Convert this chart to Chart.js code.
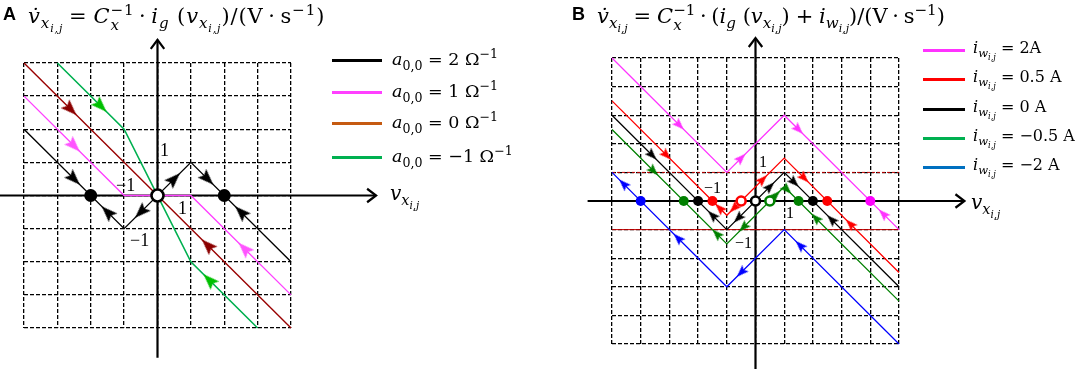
<!DOCTYPE html>
<html>
<head>
<meta charset="utf-8">
<script src="https://cdn.jsdelivr.net/npm/chart.js@4.4.1/dist/chart.umd.min.js"></script>
<style>
  body { margin: 0; background: #fff; width: 1079px; height: 369px; position: relative; overflow: hidden;
         font-family: "DejaVu Serif", "Liberation Serif", serif; color: #000; }
  canvas { position: absolute; top: 0; }
  .t { position: absolute; white-space: nowrap; line-height: 1; }
  .eq { font-size: 21px; }
  i { font-style: italic; }
  sub, sup { font-size: 72%; line-height: 0; }
  .ss { display: inline-flex; flex-direction: column; vertical-align: 8px; font-size: 72%; line-height: 1.0; }
  .op { margin: 0 0.28em; }
  .dt { margin: 0 0.22em; }
  .panel { position: absolute; font-family: "Liberation Sans", Arial, sans-serif; font-weight: bold; font-size: 18px; line-height: 1; }
  .sw { position: absolute; height: 3px; }
  .num { position: absolute; font-family: "Liberation Serif", serif; font-size: 18px; line-height: 1; }
  .numB { position: absolute; font-family: "Liberation Serif", serif; font-size: 16px; line-height: 1; }
</style>
</head>
<body>
<canvas id="chartA" width="540" height="369" style="left:0;width:540px;height:369px"></canvas>
<canvas id="chartB" width="539" height="369" style="left:540px;width:539px;height:369px"></canvas>

<!-- panel A text -->
<div class="panel" style="left:3px;top:5px">A</div>
<div class="t eq" style="left:28px;top:3px;letter-spacing:0.9px"><i>v̇</i><sub><i>x</i><sub><i>i,j</i></sub></sub><span class="op">=</span><i>C</i><span class="ss"><span>−1</span><span><i>x</i></span></span><span class="dt">·</span><i>i</i><sub><i>g</i></sub> (<i>v</i><sub><i>x</i><sub><i>i,j</i></sub></sub>)/(V<span class="dt">·</span>s<sup>−1</sup>)</div>

<div class="sw" style="left:332px;top:59px;width:50px;background:#000"></div>
<div class="sw" style="left:332px;top:91px;width:50px;background:#ff40ff"></div>
<div class="sw" style="left:332px;top:122px;width:50px;background:#c55a11"></div>
<div class="sw" style="left:332px;top:156px;width:50px;background:#00b050"></div>
<div class="t" style="left:392px;top:51px;font-size:17.5px"><i>a</i><sub>0,0</sub> = 2 Ω<sup>−1</sup></div>
<div class="t" style="left:392px;top:83px;font-size:17.5px"><i>a</i><sub>0,0</sub> = 1 Ω<sup>−1</sup></div>
<div class="t" style="left:392px;top:114px;font-size:17.5px"><i>a</i><sub>0,0</sub> = 0 Ω<sup>−1</sup></div>
<div class="t" style="left:392px;top:148px;font-size:17.5px"><i>a</i><sub>0,0</sub> = −1 Ω<sup>−1</sup></div>
<div class="t" style="left:390px;top:183px;font-size:20px"><i>v</i><sub><i>x</i><sub><i>i,j</i></sub></sub></div>

<div class="num" style="left:160px;top:141px">1</div>
<div class="num" style="left:116px;top:176px">−1</div>
<div class="num" style="left:178px;top:199px">1</div>
<div class="num" style="left:130px;top:231px">−1</div>

<!-- panel B text -->
<div class="panel" style="left:572px;top:5px">B</div>
<div class="t eq" style="left:597px;top:3px"><i>v̇</i><sub><i>x</i><sub><i>i,j</i></sub></sub><span class="op">=</span><i>C</i><span class="ss"><span>−1</span><span><i>x</i></span></span><span class="dt">·</span>(<i>i</i><sub><i>g</i></sub> (<i>v</i><sub><i>x</i><sub><i>i,j</i></sub></sub>)<span class="op">+</span><i>i</i><sub><i>w</i><sub><i>i,j</i></sub></sub>)/(V<span class="dt">·</span>s<sup>−1</sup>)</div>

<div class="sw" style="left:923px;top:49px;width:42px;background:#ff33ff"></div>
<div class="sw" style="left:923px;top:78px;width:42px;background:#ff0000"></div>
<div class="sw" style="left:923px;top:108px;width:42px;background:#000"></div>
<div class="sw" style="left:923px;top:137px;width:42px;background:#00b050"></div>
<div class="sw" style="left:923px;top:166px;width:42px;background:#0070c0"></div>
<div class="t" style="left:973px;top:40px;font-size:16px"><i>i</i><sub><i>w</i><sub><i>i,j</i></sub></sub> = 2A</div>
<div class="t" style="left:973px;top:69px;font-size:16px"><i>i</i><sub><i>w</i><sub><i>i,j</i></sub></sub> = 0.5 A</div>
<div class="t" style="left:973px;top:99px;font-size:16px"><i>i</i><sub><i>w</i><sub><i>i,j</i></sub></sub> = 0 A</div>
<div class="t" style="left:973px;top:128px;font-size:16px"><i>i</i><sub><i>w</i><sub><i>i,j</i></sub></sub> = −0.5 A</div>
<div class="t" style="left:973px;top:157px;font-size:16px"><i>i</i><sub><i>w</i><sub><i>i,j</i></sub></sub> = −2 A</div>
<div class="t" style="left:971px;top:192px;font-size:20px"><i>v</i><sub><i>x</i><sub><i>i,j</i></sub></sub></div>

<div class="numB" style="left:759px;top:154px">1</div>
<div class="numB" style="left:704px;top:180px">−1</div>
<div class="numB" style="left:786px;top:205px">1</div>
<div class="numB" style="left:735px;top:235px">−1</div>

<script>
// ---- panel A: i_g(v) for several a00 ----
const vA = [-4, -1, 1, 4];
const igA_2 = [2, -1, 1, -2];
const igA_1 = [3, 0, 0, -3];
const vA_0 = [-4, 4];
const igA_0 = [4, -4];
const vA_m1 = [-3, -1, 1, 3];
const igA_m1 = [4, 2, -2, -4];
const stableA = [-2, 2];
const unstableA = [0];
// arrows: [v, value, direction]
const arrowsA_2 = [[-2.5, 0.5, 'dr'], [-1.5, -0.5, 'ul'], [-0.5, -0.5, 'dl'], [0.5, 0.5, 'ur'], [1.5, 0.5, 'dr'], [2.5, -0.5, 'ul']];
const arrowsA_1 = [[-2.5, 1.5, 'dr'], [2.6, -1.6, 'ul']];
const arrowsA_0 = [[-2.6, 2.6, 'dr'], [1.5, -1.5, 'ul']];
const arrowsA_m1 = [[-1.7, 2.7, 'dr'], [1.55, -2.55, 'ul']];

// ---- panel B: i_g(v) + i_w ----
const vB = [-5, -1, 1, 5];
const igB_2 = [5, 1, 3, -1];
const igB_05 = [3.5, -0.5, 1.5, -2.5];
const igB_0 = [3, -1, 1, -3];
const igB_m05 = [2.5, -1.5, 0.5, -3.5];
const igB_m2 = [1, -3, -1, -5];
const refLevelsB = [1, -1];
const stableB_2 = [4];
const stableB_05 = [-1.5, 2.5];
const unstableB_05 = [-0.5];
const stableB_0 = [-2, 2];
const unstableB_0 = [0];
const stableB_m05 = [-2.5, 1.5];
const unstableB_m05 = [0.5];
const stableB_m2 = [-4];
const arrowsB_2 = [[-2.65, 2.65, 'dr'], [-0.5, 1.5, 'ur'], [1.5, 2.5, 'dr'], [4.45, -0.45, 'ul']];
const arrowsB_05 = [[-3.1, 1.6, 'dr'], [-1.25, -0.25, 'ul'], [-0.75, -0.25, 'dl'], [0.25, 0.75, 'ur'], [1.7, 0.8, 'dr'], [3.3, -0.8, 'ul']];
const arrowsB_0 = [[-3.6, 1.6, 'dr'], [-1.5, -0.5, 'ul'], [-0.6, -0.6, 'dl'], [0.5, 0.5, 'ur'], [1.35, 0.65, 'dr'], [2.65, -0.65, 'ul']];
const arrowsB_m05 = [[-3.55, 1.05, 'dr'], [-1.35, -1.15, 'ul'], [-0.42, -0.92, 'dl'], [0.7, 0.2, 'ur'], [1.1, 0.4, 'dr'], [2.1, -0.6, 'ul']];
const arrowsB_m2 = [[-4.6, 0.6, 'ul'], [-2.7, -1.3, 'ul'], [-0.5, -2.5, 'dl'], [1.55, -1.55, 'ul']];

const rot = { dr: 135, ul: -45, dl: -135, ur: 45 };

// arrow head pointing up, used as point style
function arrowHead(color, w, h) {
    const c = document.createElement('canvas');
    c.width = w; c.height = h;
    const g = c.getContext('2d');
    g.fillStyle = color;
    g.beginPath();
    g.moveTo(w / 2, 0);
    g.lineTo(w, h);
    g.lineTo(w / 2, h * 0.82);
    g.lineTo(0, h);
    g.closePath();
    g.fill();
    return c;
}

function lineDs(xs, ys, color, w, dash) {
    return {
        type: 'line',
        order: 3,
        data: xs.map((x, i) => ({ x: x, y: ys[i] })),
        borderColor: color,
        borderWidth: w,
        borderDash: dash || [],
        pointRadius: 0,
        fill: false,
        tension: 0,
        clip: false
    };
}

function arrowDs(list, color, w, h) {
    return {
        type: 'scatter',
        order: 2,
        data: list.map(a => ({ x: a[0], y: a[1] })),
        pointStyle: arrowHead(color, w, h),
        pointRotation: list.map(a => rot[a[2]]),
        pointRadius: h / 2,
        clip: false
    };
}

function dotDs(xs, color, r, open) {
    return {
        type: 'scatter',
        order: 1,
        data: xs.map(x => ({ x: x, y: 0 })),
        pointRadius: r,
        pointBackgroundColor: open ? '#fff' : color,
        pointBorderColor: color,
        pointBorderWidth: open ? 2.6 : 0,
        clip: false
    };
}

// solid axes with open arrow heads, drawn under the curves
const axesPlugin = {
    id: 'axes',
    beforeDatasetsDraw(chart, args, opts) {
        const ctx = chart.ctx;
        const sx = chart.scales.x, sy = chart.scales.y;
        const x0 = sx.getPixelForValue(0), y0 = sy.getPixelForValue(0);
        const xl = sx.getPixelForValue(opts.xFrom), xr = sx.getPixelForValue(opts.xTo);
        const yb = sy.getPixelForValue(opts.yFrom), yt = sy.getPixelForValue(opts.yTo);
        ctx.save();
        ctx.strokeStyle = '#000';
        ctx.lineWidth = 2.2;
        ctx.beginPath();
        ctx.moveTo(xl, y0); ctx.lineTo(xr, y0);
        ctx.moveTo(x0, yb); ctx.lineTo(x0, yt);
        ctx.stroke();
        const h = 9;
        ctx.beginPath();
        ctx.moveTo(xr - h, y0 - h * 0.75); ctx.lineTo(xr, y0); ctx.lineTo(xr - h, y0 + h * 0.75);
        ctx.moveTo(x0 - h * 0.75, yt + h); ctx.lineTo(x0, yt); ctx.lineTo(x0 + h * 0.75, yt + h);
        ctx.stroke();
        ctx.restore();
    }
};

function options(min, max, pad, axes) {
    const sc = (isX) => ({
        type: 'linear', min: min, max: max,
        ticks: { display: false, stepSize: 1 },
        grid: { color: '#000', lineWidth: 1.3, drawTicks: false },
        border: { display: false, dash: [4, 2] },
        afterFit: s => { if (isX) s.height = 0; else s.width = 0; }
    });
    return {
        responsive: false,
        animation: false,
        events: [],
        layout: { padding: pad },
        plugins: { legend: { display: false }, tooltip: { enabled: false }, axes: axes },
        scales: { x: sc(true), y: sc(false) }
    };
}

new Chart(document.getElementById('chartA'), {
    type: 'line',
    data: {
        datasets: [
            lineDs(vA, igA_2, '#000', 1.4),
            lineDs(vA, igA_1, '#ff40ff', 1.4),
            lineDs(vA_0, igA_0, '#990000', 1.4),
            lineDs(vA_m1, igA_m1, '#00b050', 1.6),
            arrowDs(arrowsA_2, '#000', 12, 16),
            arrowDs(arrowsA_1, '#ff55ff', 12, 16),
            arrowDs(arrowsA_0, '#8b0000', 12, 16),
            arrowDs(arrowsA_m1, '#00c000', 12, 16),
            dotDs(stableA, '#000', 6.5, false),
            dotDs(unstableA, '#000', 6, true)
        ]
    },
    options: options(-4, 4, { left: 24, top: 63, right: 249, bottom: 41 },
        { xFrom: -4.72, xTo: 6.55, yFrom: -4.9, yTo: 4.7 }),
    plugins: [axesPlugin]
});

const refDs = refLevelsB.map((lv, i) =>
    Object.assign(lineDs([-5, 5], [lv, lv], '#c00000', 1, i === 0 ? [3, 2] : []), { order: 4 }));

new Chart(document.getElementById('chartB'), {
    type: 'line',
    data: {
        datasets: [
            ...refDs,
            lineDs(vB, igB_2, '#ff33ff', 1.3),
            lineDs(vB, igB_05, '#ff0000', 1.3),
            lineDs(vB, igB_0, '#000', 1.3),
            lineDs(vB, igB_m05, '#008000', 1.3),
            lineDs(vB, igB_m2, '#0000ff', 1.3),
            arrowDs(arrowsB_2, '#ff33ff', 9, 12),
            arrowDs(arrowsB_05, '#ff0000', 9, 12),
            arrowDs(arrowsB_0, '#000', 9, 12),
            arrowDs(arrowsB_m05, '#008000', 9, 12),
            arrowDs(arrowsB_m2, '#0000ff', 9, 12),
            dotDs(stableB_2, '#ff00ff', 5, false),
            dotDs(stableB_05, '#ff0000', 5, false),
            dotDs(unstableB_05, '#ff0000', 4.5, true),
            dotDs(stableB_0, '#000', 5, false),
            dotDs(unstableB_0, '#000', 4.5, true),
            dotDs(stableB_m05, '#008000', 5, false),
            dotDs(unstableB_m05, '#008000', 4.5, true),
            dotDs(stableB_m2, '#0000ff', 5, false)
        ]
    },
    options: options(-5, 5, { left: 72, top: 58, right: 180, bottom: 25 },
        { xFrom: -5.85, xTo: 7.28, yFrom: -5.9, yTo: 5.7 }),
    plugins: [axesPlugin]
});
</script>
</body>
</html>
